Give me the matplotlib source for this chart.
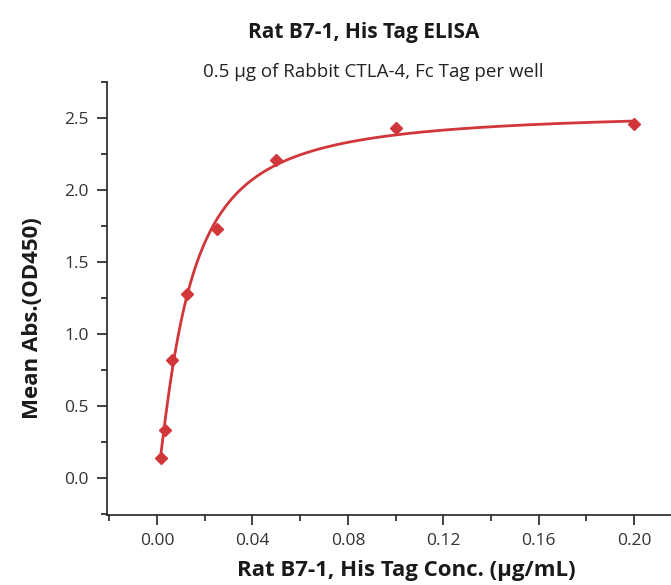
import numpy as np
import matplotlib
matplotlib.use('Agg')
import matplotlib.pyplot as plt
from matplotlib.ticker import MultipleLocator

# Data
conc = [0.0015625, 0.003125, 0.00625, 0.0125, 0.025, 0.05, 0.1, 0.2]
mean_abs = [0.14, 0.33, 0.82, 1.28, 1.73, 2.21, 2.43, 2.46]

title = 'Rat B7-1, His Tag ELISA'
subtitle = '0.5 \u00b5g of Rabbit CTLA-4, Fc Tag per well'
xlabel = 'Rat B7-1, His Tag Conc. (\u00b5g/mL)'
ylabel = 'Mean Abs.(OD450)'

plt.rcParams['font.family'] = ['Open Sans', 'DejaVu Sans']

# 5-parameter logistic fit of the points (coarse grid search)
x = np.array(conc)
y = np.array(mean_abs)
A = np.linspace(-0.05, 0.05, 5)[:, None, None, None, None, None]
B = np.linspace(1.2, 3.0, 19)[None, :, None, None, None, None]
C = np.linspace(0.005, 0.05, 46)[None, None, :, None, None, None]
D = np.linspace(2.40, 2.55, 16)[None, None, None, :, None, None]
G = np.linspace(0.3, 1.2, 19)[None, None, None, None, :, None]
pred = A + (D - A) / (1 + (C / x) ** B) ** G
sse = ((pred - y) ** 2).sum(axis=-1)
i = np.unravel_index(np.argmin(sse), sse.shape)
a, b, c, d, g = (A.ravel()[i[0]], B.ravel()[i[1]], C.ravel()[i[2]],
                 D.ravel()[i[3]], G.ravel()[i[4]])
xf = np.linspace(min(conc), max(conc), 400)
yf = a + (d - a) / (1 + (c / xf) ** b) ** g

red = '#D0363A'
fig = plt.figure(figsize=(6.71, 5.85), dpi=100)
ax = fig.add_axes([0.1595, 0.1197, 0.8405, 0.7401])
ax.plot(xf, yf, color=red, lw=2)
ax.plot(conc, mean_abs, 'D', color=red, ms=6.5, mec=red)

ax.set_xlim(-0.021, 0.2155)
ax.set_ylim(-0.257, 2.75)
ax.xaxis.set_major_locator(MultipleLocator(0.04))
ax.xaxis.set_minor_locator(MultipleLocator(0.02))
ax.yaxis.set_major_locator(MultipleLocator(0.5))
ax.yaxis.set_minor_locator(MultipleLocator(0.25))
ax.xaxis.set_major_formatter(plt.FuncFormatter(lambda v, p: f'{v:.2f}'))
ax.yaxis.set_major_formatter(plt.FuncFormatter(lambda v, p: f'{v:.1f}'))

for s in ['top', 'right']:
    ax.spines[s].set_visible(False)
for s in ['left', 'bottom']:
    ax.spines[s].set_linewidth(1.2)
    ax.spines[s].set_color('#222222')
ax.tick_params(which='major', length=7, width=1.2, labelsize=12.5, colors='#222222', labelcolor='#333333', pad=6)
ax.tick_params(which='minor', length=4, width=1.2, colors='#222222')

fig.text(0.5425, 0.945, title, ha='center', va='center', fontsize=15, fontweight='bold', color='#1a1a1a')
fig.text(0.556, 0.877, subtitle, ha='center', va='center', fontsize=13.5, color='#222222')
fig.text(0.605, 0.024, xlabel, ha='center', va='center', fontsize=16, fontweight='bold', color='#1a1a1a')
fig.text(0.048, 0.456, ylabel, ha='center', va='center', rotation=90, fontsize=16, fontweight='bold', color='#1a1a1a')

fig.savefig('out.png', dpi=100)
